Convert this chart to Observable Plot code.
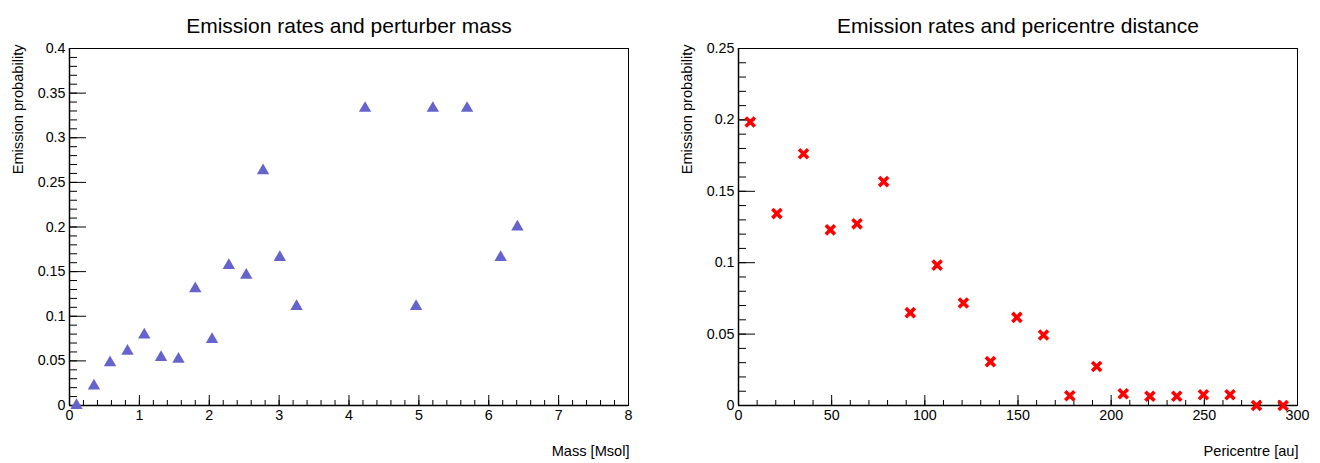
<!DOCTYPE html>
<html>
<head>
<meta charset="utf-8">
<script src="https://cdn.jsdelivr.net/npm/d3@7"></script>
<script src="https://cdn.jsdelivr.net/npm/@observablehq/plot@0.6"></script>
<style>
  html, body { margin: 0; padding: 0; background: #fff; }
  #wrap { display: flex; width: 1320px; height: 463px; }
  #wrap > div { width: 660px; height: 463px; }
  svg { display: block; }
</style>
</head>
<body>
<div id="wrap"><div id="left"></div><div id="right"></div></div>
<script>
// ---- Panel 1: Emission rates and perturber mass ----
const massTitle = "Emission rates and perturber mass";
const massXLabel = "Mass [Msol]";
const massYLabel = "Emission probability";
const massX = [0.10, 0.35, 0.58, 0.83, 1.07, 1.31, 1.56, 1.80, 2.04, 2.28, 2.53, 2.77, 3.01, 3.25, 4.23, 4.96, 5.20, 5.69, 6.17, 6.41];
const massY = [0.0, 0.022, 0.048, 0.061, 0.079, 0.054, 0.052, 0.131, 0.074, 0.157, 0.146, 0.263, 0.166, 0.111, 0.333, 0.111, 0.333, 0.333, 0.166, 0.200];
const massXTicks = [0, 1, 2, 3, 4, 5, 6, 7, 8];
const massYTicks = [0, 0.05, 0.1, 0.15, 0.2, 0.25, 0.3, 0.35, 0.4];

// ---- Panel 2: Emission rates and pericentre distance ----
const periTitle = "Emission rates and pericentre distance";
const periXLabel = "Pericentre [au]";
const periYLabel = "Emission probability";
const periX = [6.3, 20.6, 34.9, 49.3, 63.6, 77.9, 92.2, 106.6, 120.7, 135.2, 149.4, 163.7, 177.8, 192.2, 206.5, 220.8, 235.2, 249.5, 263.8, 278.0, 292.3];
const periY = [0.1985, 0.1344, 0.1763, 0.123, 0.1272, 0.1568, 0.065, 0.0983, 0.0718, 0.0307, 0.0617, 0.0494, 0.0068, 0.0273, 0.0082, 0.0065, 0.0065, 0.0075, 0.0075, 0.0, 0.0];
const periXTicks = [0, 50, 100, 150, 200, 250, 300];
const periYTicks = [0, 0.05, 0.1, 0.15, 0.2, 0.25];

const FONT = "'Liberation Sans', Arial, Helvetica, sans-serif";
const fmt = d3.format("~g");

function panel({title, xLabel, yLabel, xs, ys, xDomain, yDomain, xTicks, yTicks, xMinorStep, yMinorStep, marker, margins}) {
  const data = xs.map((x, i) => ({x, y: ys[i]}));
  const xMinor = d3.range(xDomain[0], xDomain[1] + 1e-9, xMinorStep);
  const yMinor = d3.range(yDomain[0], yDomain[1] + 1e-9, yMinorStep);
  return Plot.plot({
    width: 660,
    height: 463,
    ...margins,
    style: {fontFamily: FONT, fontSize: "14px", color: "#000", background: "#fff"},
    x: {domain: xDomain, nice: false},
    y: {domain: yDomain, nice: false},
    marks: [
      Plot.frame({stroke: "#000", strokeWidth: 1}),
      // y ticks (inside the frame)
      Plot.axisY(yMinor, {tickSize: 8, dx: 8, fill: "none", stroke: "#000"}),
      Plot.axisY(yTicks, {tickSize: 17, dx: 17, fill: "none", stroke: "#000"}),
      Plot.axisY(yTicks, {tickSize: 0, tickPadding: 4, tickFormat: fmt, fontSize: 14.3, label: null, fill: "#000"}),
      // x ticks (inside the frame)
      Plot.axisX(xMinor, {tickSize: 5, dy: -5, fill: "none", stroke: "#000"}),
      Plot.axisX(xTicks, {tickSize: 10, dy: -10, fill: "none", stroke: "#000"}),
      Plot.axisX(xTicks, {tickSize: 0, tickPadding: 4, tickFormat: fmt, fontSize: 14.3, label: null, fill: "#000"}),
      Plot.ruleY([yDomain[0]], {stroke: "#000", strokeWidth: 1.5}),
      Plot.ruleX([xDomain[0]], {stroke: "#000", strokeWidth: 1.5}),
      marker(data),
      Plot.text([title], {frameAnchor: "top", dy: -30, fontSize: 21, fill: "#000"}),
      Plot.text([yLabel], {frameAnchor: "top-left", rotate: -90, textAnchor: "end", dx: -57, dy: -4, fontSize: 14.6, fill: "#000"}),
      Plot.text([xLabel], {frameAnchor: "bottom-right", textAnchor: "end", dy: 50, dx: 1, fontSize: 14.6, fill: "#000"})
    ]
  });
}

document.getElementById("left").append(panel({
  title: massTitle, xLabel: massXLabel, yLabel: massYLabel,
  xs: massX, ys: massY,
  xDomain: [0, 8], yDomain: [0, 0.4],
  xTicks: massXTicks, yTicks: massYTicks,
  xMinorStep: 0.2, yMinorStep: 0.01,
  marker: (data) => Plot.dot(data, {x: "x", y: "y", symbol: "triangle", r: 4.6, fill: "#6464cc", stroke: "none"}),
  margins: {marginLeft: 69, marginRight: 32, marginTop: 48, marginBottom: 58}
}));

document.getElementById("right").append(panel({
  title: periTitle, xLabel: periXLabel, yLabel: periYLabel,
  xs: periX, ys: periY,
  xDomain: [0, 300], yDomain: [0, 0.25],
  xTicks: periXTicks, yTicks: periYTicks,
  xMinorStep: 10, yMinorStep: 0.01,
  marker: (data) => Plot.dot(data, {x: "x", y: "y", symbol: "times", r: 4.2, stroke: "#ff0000", strokeWidth: 3.6}),
  margins: {marginLeft: 78, marginRight: 23, marginTop: 48, marginBottom: 58}
}));
</script>
</body>
</html>
